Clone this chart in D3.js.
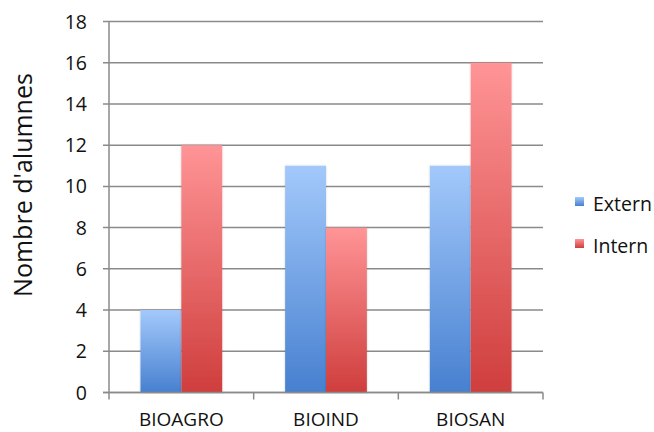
<!DOCTYPE html>
<html>
<head>
<meta charset="utf-8">
<script src="https://cdn.jsdelivr.net/npm/d3@7"></script>
<style>
  html, body { margin: 0; padding: 0; background: #fff; }
  svg { display: block; font-family: "Open Sans", "Liberation Sans", sans-serif; }
</style>
</head>
<body>
<svg id="chart" width="654" height="432"></svg>
<script>
// Student counts per programme, split by origin
const categories = ["BIOAGRO", "BIOIND", "BIOSAN"];
const seriesNames = ["Extern", "Intern"];
const externValues = [4, 11, 11];
const internValues = [12, 8, 16];
const yTicks = [0, 2, 4, 6, 8, 10, 12, 14, 16, 18];
const yTitle = "Nombre d'alumnes";

const seriesValues = { Extern: externValues, Intern: internValues };

const svg = d3.select("#chart");
const plotLeft = 109, plotRight = 543, plotTop = 21.5, plotBottom = 392.5;

const defs = svg.append("defs");
const gradStops = {
  Extern: ["#a3c9fb", "#4780d0"],
  Intern: ["#ff9496", "#cf3e3d"]
};
seriesNames.forEach(s => {
  const g = defs.append("linearGradient")
    .attr("id", "grad-" + s)
    .attr("x1", 0).attr("y1", 0).attr("x2", 0).attr("y2", 1);
  g.append("stop").attr("offset", "0%").attr("stop-color", gradStops[s][0]);
  g.append("stop").attr("offset", "100%").attr("stop-color", gradStops[s][1]);
});
const shadow = defs.append("filter").attr("id", "barShadow")
  .attr("x", "-20%").attr("y", "-10%").attr("width", "140%").attr("height", "120%");
shadow.append("feDropShadow")
  .attr("dx", 0).attr("dy", 0).attr("stdDeviation", 1.2)
  .attr("flood-color", "#000").attr("flood-opacity", 0.18);

const x0 = d3.scaleBand().domain(categories).range([plotLeft, plotRight]).padding(0);
const x1 = d3.scaleBand().domain(seriesNames).range([0, x0.bandwidth()])
  .paddingInner(0).paddingOuter(0.77);
const y = d3.scaleLinear().domain([0, 18]).range([plotBottom, plotTop]);

const gridColor = "#8a8a8a";

// horizontal gridlines with small left ticks
svg.append("g").selectAll("line").data(yTicks).join("line")
  .attr("x1", plotLeft - 6).attr("x2", plotRight)
  .attr("y1", d => y(d)).attr("y2", d => y(d))
  .attr("stroke", gridColor).attr("stroke-width", 1.5);

// y tick labels
svg.append("g").selectAll("text").data(yTicks).join("text")
  .attr("x", 87).attr("y", d => y(d))
  .attr("dy", "0.36em")
  .attr("text-anchor", "end")
  .attr("font-size", 19.5)
  .attr("fill", "#111")
  .text(d => d);

// bars
const groups = svg.append("g").selectAll("g").data(categories).join("g")
  .attr("transform", d => `translate(${x0(d)},0)`);
groups.selectAll("rect")
  .data((c, i) => seriesNames.map(s => ({ s, v: seriesValues[s][i] })))
  .join("rect")
  .attr("x", d => x1(d.s))
  .attr("width", x1.bandwidth())
  .attr("y", d => y(d.v))
  .attr("height", d => y(0) - y(d.v))
  .attr("fill", d => `url(#grad-${d.s})`)
  .attr("filter", "url(#barShadow)");

// axis lines
svg.append("line")
  .attr("x1", plotLeft).attr("x2", plotLeft).attr("y1", plotTop).attr("y2", plotBottom + 7)
  .attr("stroke", gridColor).attr("stroke-width", 1.5);
svg.append("line")
  .attr("x1", plotLeft - 6).attr("x2", plotRight).attr("y1", plotBottom).attr("y2", plotBottom)
  .attr("stroke", gridColor).attr("stroke-width", 1.5);

// category separators below the x axis
const sepX = categories.map(c => x0(c) + x0.bandwidth());
svg.append("g").selectAll("line").data(sepX).join("line")
  .attr("x1", d => d).attr("x2", d => d)
  .attr("y1", plotBottom).attr("y2", plotBottom + 7)
  .attr("stroke", gridColor).attr("stroke-width", 1.5);

// category labels
svg.append("g").selectAll("text").data(categories).join("text")
  .attr("x", d => x0(d) + x0.bandwidth() / 2)
  .attr("y", 426)
  .attr("text-anchor", "middle")
  .attr("font-size", 19)
  .attr("fill", "#111")
  .text(d => d);

// y axis title
svg.append("text")
  .attr("transform", "translate(32,185) rotate(-90)")
  .attr("text-anchor", "middle")
  .attr("font-size", 25)
  .attr("fill", "#111")
  .text(yTitle);

// legend
const legend = svg.append("g").selectAll("g").data(seriesNames).join("g")
  .attr("transform", (d, i) => `translate(575,${197 + i * 42})`);
legend.append("rect")
  .attr("width", 9).attr("height", 9)
  .attr("fill", d => `url(#grad-${d})`);
legend.append("text")
  .attr("x", 18).attr("y", 14)
  .attr("font-size", 19.5)
  .attr("fill", "#111")
  .text(d => d);
</script>
</body>
</html>
